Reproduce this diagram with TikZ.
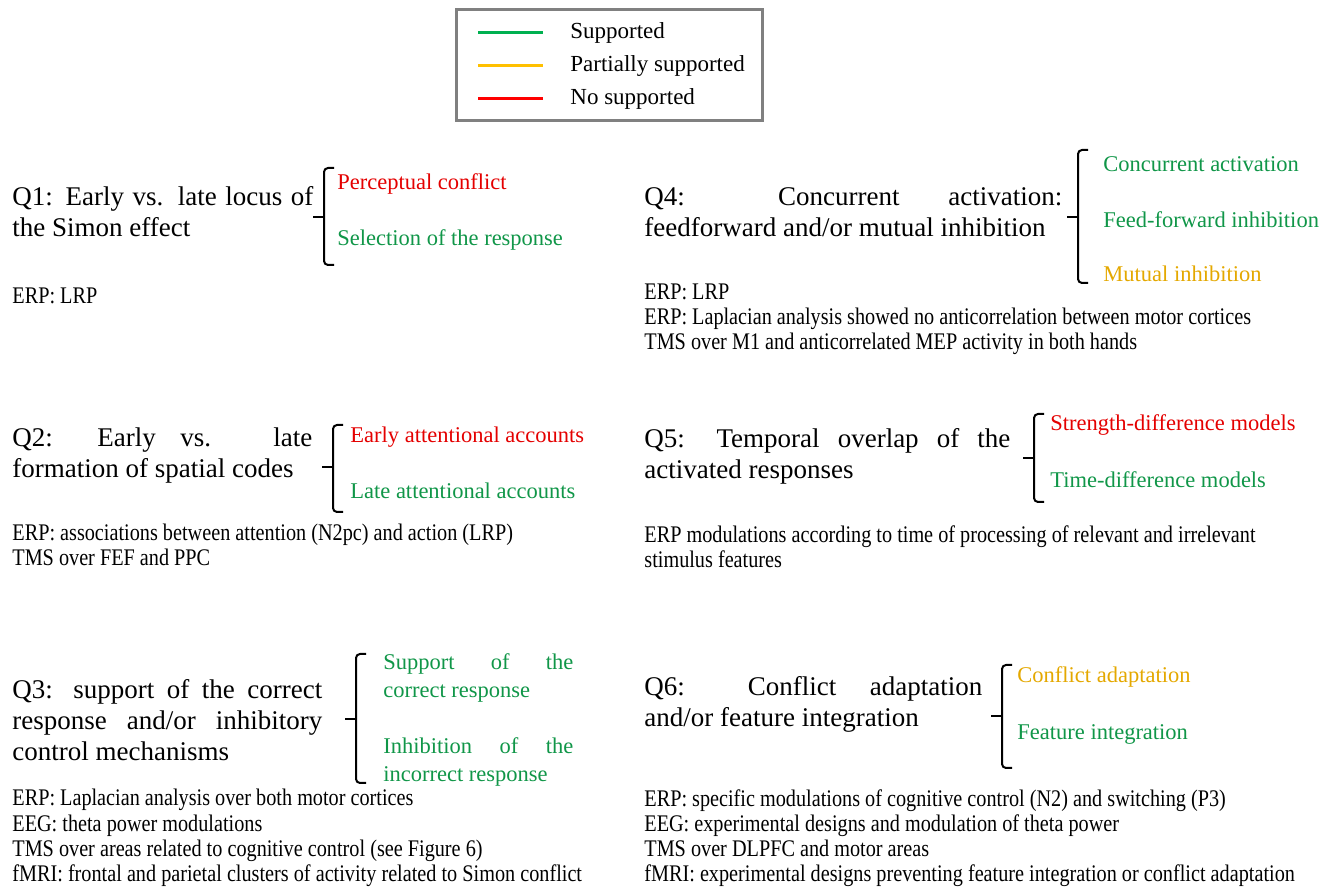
\documentclass[tikz,border=0pt]{standalone}
\usepackage{fontspec}
\setmainfont{Liberation Serif}
\newfontfamily\evfont[FakeStretch=0.85]{Liberation Serif}

\definecolor{suppgreen}{RGB}{0,176,80}
\definecolor{partyellow}{RGB}{255,192,0}
\definecolor{nored}{RGB}{255,0,0}
\definecolor{greentxt}{RGB}{16,150,72}
\definecolor{yellowtxt}{RGB}{228,168,0}
\definecolor{redtxt}{RGB}{228,0,0}

\newcommand{\just}[2]{\makebox[#1][s]{#2}}

\begin{document}
\begin{tikzpicture}[x=0.5pt,y=-0.5pt,
  question/.style={anchor=west,inner sep=0pt,align=left,font=\fontsize{13.5}{15.5}\selectfont},
  answer/.style={anchor=west,inner sep=0pt,align=left,font=\fontsize{11.25}{14}\selectfont},
  evidence/.style={anchor=west,inner sep=0pt,align=left,font=\evfont\fontsize{11.9}{12.6}\selectfont},
  legend/.style={anchor=west,inner sep=0pt,font=\fontsize{11.5}{13}\selectfont},
  qbrace/.style={line width=1pt,rounded corners=2pt}]
\useasboundingbox (0,0) rectangle (1341,887);

% legend
\draw[gray,line width=1.5pt] (456,10) rectangle (762,121);
\foreach \y/\c in {33/suppgreen,66/partyellow,99/nored}
  \draw[\c,line width=1.5pt] (478,\y) -- (543,\y);
\node[legend] (supp) at (570,33) {Supported};
\node[legend] (part) at (570,66) {Partially supported};
\node[legend] (nosupp) at (570,99) {No supported};

% braces
\foreach \vx/\yt/\yb/\ym in {324/168/265/217, 1078/150/283/217, 333/425/512/467,
    1034/414/502/458, 356/654/783/719, 1002/665/768/716}{
  \draw[qbrace] (\vx+10,\yt) -- (\vx,\yt) -- (\vx,\yb) -- (\vx+10,\yb);
  \draw[qbrace] (\vx-11,\ym) -- (\vx,\ym);
}

% Q1
\node[question] (qone) at (12,212) {\just{150.5pt}{Q1: Early vs. late locus of}\\the Simon effect};
\node[answer,redtxt] (qone-a) at (337,184) {Perceptual conflict};
\node[answer,greentxt] (qone-b) at (337,240) {Selection of the response};
\node[evidence] (qone-ev) at (12,296) {ERP: LRP};

% Q4
\node[question] (qfour) at (644,212) {\just{209pt}{Q4: Concurrent activation:}\\feedforward and/or mutual inhibition};
\node[answer,greentxt] (qfour-a) at (1103,164) {Concurrent activation};
\node[answer,greentxt] (qfour-b) at (1103,220) {Feed-forward inhibition};
\node[answer,yellowtxt] (qfour-c) at (1103,274) {Mutual inhibition};
\node[evidence] (qfour-ev) at (644,319) {ERP: LRP\\
  ERP: Laplacian analysis showed no anticorrelation between motor cortices\\
  TMS over M1 and anticorrelated MEP activity in both hands};

% Q2
\node[question] (qtwo) at (12,456) {\just{150pt}{Q2: Early vs. late}\\formation of spatial codes};
\node[answer,redtxt] (qtwo-a) at (350,437) {Early attentional accounts};
\node[answer,greentxt] (qtwo-b) at (350,491) {Late attentional accounts};
\node[evidence] (qtwo-ev) at (12,545) {ERP: associations between attention (N2pc) and action (LRP)\\
  TMS over FEF and PPC};

% Q5
\node[question] (qfive) at (644,456) {\just{183pt}{Q5: Temporal overlap of the}\\activated responses};
\node[answer,redtxt] (qfive-a) at (1050,425) {Strength-difference models};
\node[answer,greentxt] (qfive-b) at (1050,480) {Time-difference models};
\node[evidence] (qfive-ev) at (644,547) {ERP modulations according to time of processing of relevant and irrelevant\\
  stimulus features};

% Q3
\node[question] (qthree) at (12,720) {\just{155pt}{Q3: support of the correct}\\
  \just{155pt}{response and/or inhibitory}\\control mechanisms};
\node[answer,greentxt] (qthree-a) at (383,678) {\just{95pt}{Support of the}\\correct response};
\node[answer,greentxt] (qthree-b) at (383,762) {\just{95pt}{Inhibition of the}\\incorrect response};
\node[evidence] (qthree-ev) at (12,838) {ERP: Laplacian analysis over both motor cortices\\
  EEG: theta power modulations\\
  TMS over areas related to cognitive control (see Figure 6)\\
  fMRI: frontal and parietal clusters of activity related to Simon conflict};

% Q6
\node[question] (qsix) at (644,704) {\just{169pt}{Q6: Conflict adaptation}\\and/or feature integration};
\node[answer,yellowtxt] (qsix-a) at (1017,677) {Conflict adaptation};
\node[answer,greentxt] (qsix-b) at (1017,734) {Feature integration};
\node[evidence] (qsix-ev) at (644,838) {ERP: specific modulations of cognitive control (N2) and switching (P3)\\
  EEG: experimental designs and modulation of theta power\\
  TMS over DLPFC and motor areas\\
  fMRI: experimental designs preventing feature integration or conflict adaptation};
\end{tikzpicture}
\end{document}
